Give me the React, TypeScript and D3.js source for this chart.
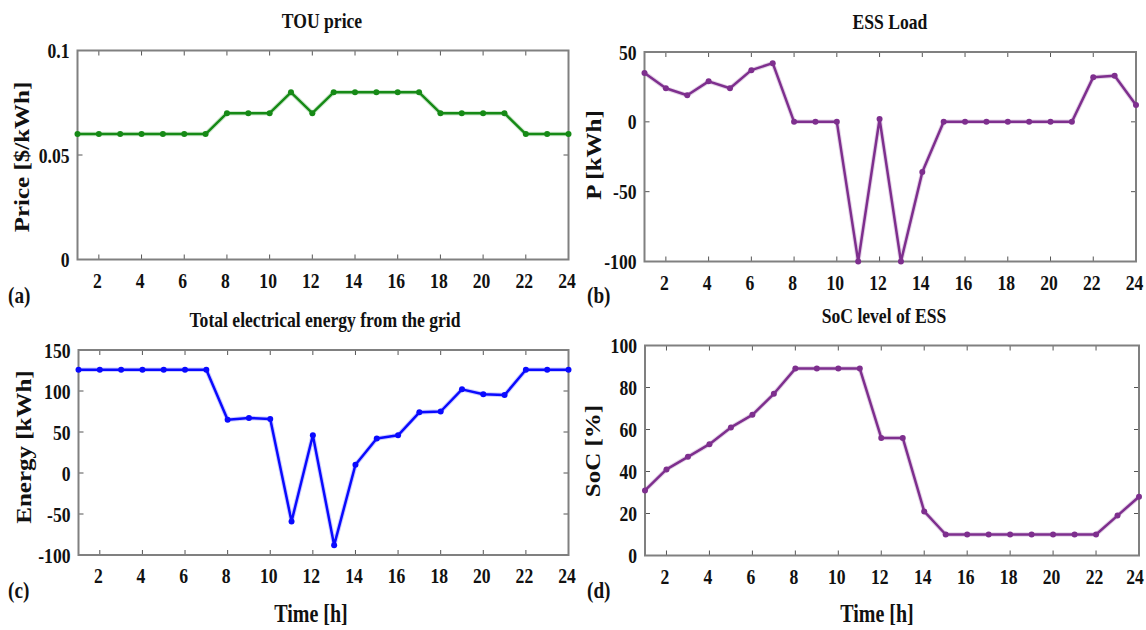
import React from "react";
import * as d3 from "d3";

const hours = [1, 2, 3, 4, 5, 6, 7, 8, 9, 10, 11, 12, 13, 14, 15, 16, 17, 18, 19, 20, 21, 22, 23, 24];
const xTicks = [2, 4, 6, 8, 10, 12, 14, 16, 18, 20, 22, 24];

const priceValues = [0.06, 0.06, 0.06, 0.06, 0.06, 0.06, 0.06, 0.07, 0.07, 0.07, 0.08, 0.07, 0.08, 0.08, 0.08, 0.08, 0.08, 0.07, 0.07, 0.07, 0.07, 0.06, 0.06, 0.06];
const essValues = [35, 24, 19, 29, 24, 37, 42, 0, 0, 0, -100, 2, -100, -36, 0, 0, 0, 0, 0, 0, 0, 32, 33, 12];
const energyValues = [126, 126, 126, 126, 126, 126, 126, 65, 67, 66, -59, 46, -88, 10, 42, 46, 74, 75, 102, 96, 95, 126, 126, 126];
const socValues = [31, 41, 47, 53, 61, 67, 77, 89, 89, 89, 89, 56, 56, 21, 10, 10, 10, 10, 10, 10, 10, 10, 19, 28];

const priceTicks = [0, 0.05, 0.1];
const priceTickLabels = ["0", "0.05", "0.1"];
const essTicks = [-100, -50, 0, 50];
const energyTicks = [-100, -50, 0, 50, 100, 150];
const socTicks = [0, 20, 40, 60, 80, 100];

const titles = ["TOU price", "ESS Load", "Total electrical energy from the grid", "SoC level of ESS"];
const yLabels = ["Price [$/kWh]", "P [kWh]", "Energy [kWh]", "SoC [%]"];
const panelTags = ["(a)", "(b)", "(c)", "(d)"];
const xLabel = "Time [h]";

const FONT = "'Liberation Serif', 'Times New Roman', serif";
const SX = 0.8;

type Panel = {
  values: number[];
  domain: [number, number];
  ticks: number[];
  tickLabels: string[];
  color: string;
  x0: number; x1: number; y0: number; y1: number;
  title: string; titleX: number;
  yLabel: string; yLabelX: number; yLabelY: number;
  tag: string; tagX: number; tagY: number;
  showXLabel: boolean; xLabelX: number;
};

const panels: Panel[] = [
  {
    values: priceValues, domain: [0, 0.1], ticks: priceTicks, tickLabels: priceTickLabels, color: "#168a16",
    x0: 77.5, x1: 568.5, y0: 50.5, y1: 259.5,
    title: titles[0], titleX: 322, yLabel: yLabels[0], yLabelX: 22, yLabelY: 157,
    tag: panelTags[0], tagX: 8, tagY: 303, showXLabel: false, xLabelX: 0,
  },
  {
    values: essValues, domain: [-100, 50], ticks: essTicks, tickLabels: essTicks.map(String), color: "#7e2f8e",
    x0: 644.5, x1: 1136, y0: 52, y1: 261.5,
    title: titles[1], titleX: 890, yLabel: yLabels[1], yLabelX: 594, yLabelY: 155,
    tag: panelTags[1], tagX: 587, tagY: 303, showXLabel: false, xLabelX: 0,
  },
  {
    values: energyValues, domain: [-100, 150], ticks: energyTicks, tickLabels: energyTicks.map(String), color: "#0a0aff",
    x0: 78.5, x1: 568.5, y0: 350, y1: 555,
    title: titles[2], titleX: 325, yLabel: yLabels[2], yLabelX: 24, yLabelY: 447,
    tag: panelTags[2], tagX: 8, tagY: 598, showXLabel: true, xLabelX: 311,
  },
  {
    values: socValues, domain: [0, 100], ticks: socTicks, tickLabels: socTicks.map(String), color: "#7e2f8e",
    x0: 645, x1: 1139, y0: 345.5, y1: 555.5,
    title: titles[3], titleX: 884, yLabel: yLabels[3], yLabelX: 593, yLabelY: 451,
    tag: panelTags[3], tagX: 587, tagY: 598, showXLabel: true, xLabelX: 877,
  },
];

function PanelView({ p }: { p: Panel }) {
  const x = d3.scaleLinear().domain([1, 24]).range([p.x0, p.x1]);
  const y = d3.scaleLinear().domain(p.domain).range([p.y1, p.y0]);
  const line = d3.line<number>().x((_, i) => x(hours[i])).y((v) => y(v));
  const tickLen = 5;
  const gray = "#808080";
  return (
    <g>
      {xTicks.map((t) => {
        // keep the label inside the page (reference labels sit a little left of their ticks)
        const lx = Math.min(x(t) - 1.5, 1135);
        return (
          <g key={"xt" + t}>
            <line x1={x(t)} x2={x(t)} y1={p.y1} y2={p.y1 - tickLen} stroke="#555" strokeWidth={1} />
            <line x1={x(t)} x2={x(t)} y1={p.y0} y2={p.y0 + tickLen} stroke="#555" strokeWidth={1} />
            <text
              transform={`translate(${lx},${p.y1 + 28}) scale(${SX},1)`}
              textAnchor="middle" fontFamily={FONT} fontWeight="bold" fontSize={22} fill="#111"
            >{t}</text>
          </g>
        );
      })}
      {p.ticks.map((t, i) => (
        <g key={"yt" + t}>
          <line x1={p.x0} x2={p.x0 + tickLen} y1={y(t)} y2={y(t)} stroke="#555" strokeWidth={1} />
          <line x1={p.x1} x2={p.x1 - tickLen} y1={y(t)} y2={y(t)} stroke="#555" strokeWidth={1} />
          <text
            transform={`translate(${p.x0 - 8},${y(t) + 7.5}) scale(${SX},1)`}
            textAnchor="end" fontFamily={FONT} fontWeight="bold" fontSize={22} fill="#111"
          >{p.tickLabels[i]}</text>
        </g>
      ))}
      <rect x={p.x0} y={p.y0} width={p.x1 - p.x0} height={p.y1 - p.y0} fill="none" stroke={gray} strokeWidth={2} />
      <path d={line(p.values) || ""} fill="none" stroke={p.color} strokeWidth={4.5} strokeOpacity={0.2} strokeLinejoin="round" />
      <path d={line(p.values) || ""} fill="none" stroke={p.color} strokeWidth={2.5} strokeLinejoin="round" />
      {p.values.map((v, i) => (
        <circle key={"m" + i} cx={x(hours[i])} cy={y(v)} r={3} fill={p.color} />
      ))}
      <text
        transform={`translate(${p.titleX},${p.y0 - 23}) scale(${SX},1)`}
        textAnchor="middle" fontFamily={FONT} fontWeight="bold" fontSize={22} fill="#111"
      >{p.title}</text>
      <text
        transform={`translate(${p.yLabelX},${p.yLabelY}) rotate(-90) scale(1,${SX})`}
        textAnchor="middle" dominantBaseline="central" fontFamily={FONT} fontWeight="bold" fontSize={25} fill="#111"
      >{p.yLabel}</text>
      <text
        transform={`translate(${p.tagX},${p.tagY}) scale(${SX},1)`}
        textAnchor="start" fontFamily={FONT} fontWeight="bold" fontSize={24} fill="#111"
      >{p.tag}</text>
      {p.showXLabel && (
        <text
          transform={`translate(${p.xLabelX},${622}) scale(${SX},1)`}
          textAnchor="middle" fontFamily={FONT} fontWeight="bold" fontSize={25} fill="#111"
        >{xLabel}</text>
      )}
    </g>
  );
}

export default function App() {
  return (
    <svg
      width={1146}
      height={630}
      viewBox="0 0 1146 630"
      style={{ position: "absolute", left: 0, top: 0, background: "#fff" }}
    >
      <rect x={0} y={0} width={1146} height={630} fill="#fff" />
      {panels.map((p, i) => (
        <PanelView key={i} p={p} />
      ))}
    </svg>
  );
}
